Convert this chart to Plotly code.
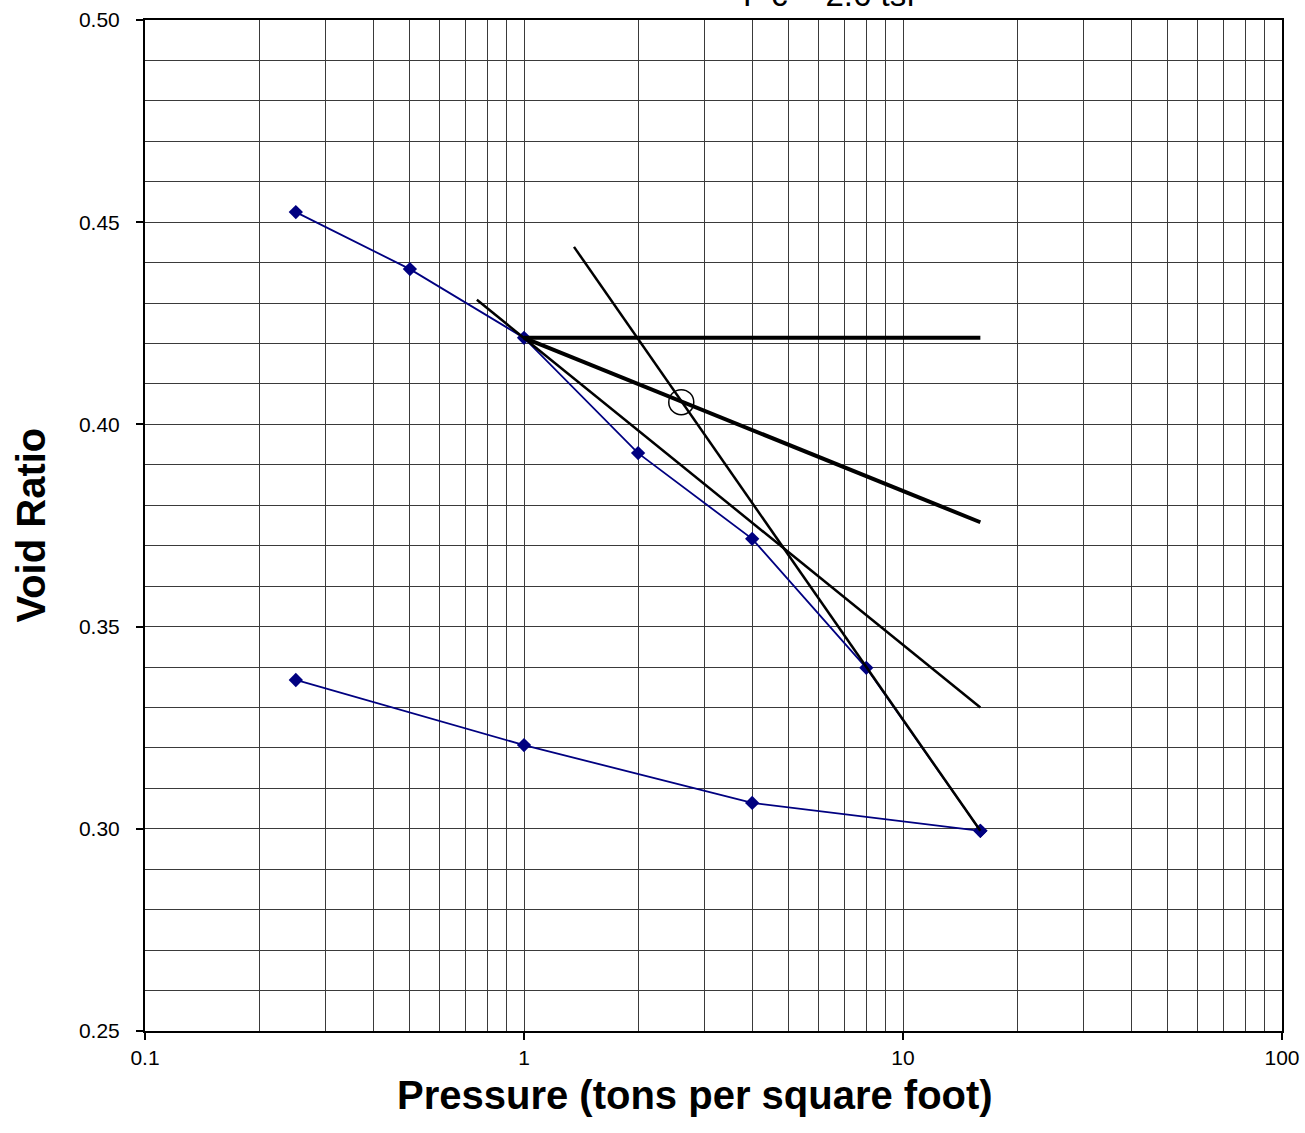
import plotly.graph_objects as go

# Consolidation test: loading and unloading curves
load_p = [0.25, 0.5, 1, 2, 4, 8, 16]
load_e = [0.4525, 0.4384, 0.4214, 0.3929, 0.3717, 0.3398, 0.2995]
unload_p = [16, 4, 1, 0.25]
unload_e = [0.2995, 0.3064, 0.3207, 0.3368]

# Casagrande construction for preconsolidation pressure
horiz_p = [1, 16]
horiz_e = [0.4214, 0.4214]
tangent_p = [1, 16]
tangent_e = [0.4214, 0.3758]
bisector_p = [0.751, 16]
bisector_e = [0.4308, 0.3300]
virgin_p = [1.355, 16]
virgin_e = [0.4439, 0.2995]
pc_p = [2.6]
pc_e = [0.4055]

navy = "#000080"
fig = go.Figure()

fig.add_trace(go.Scatter(x=load_p, y=load_e, mode="lines+markers",
                         line=dict(color=navy, width=1.8),
                         marker=dict(symbol="diamond", size=11, color=navy)))
fig.add_trace(go.Scatter(x=unload_p, y=unload_e, mode="lines+markers",
                         line=dict(color=navy, width=1.8),
                         marker=dict(symbol="diamond", size=11, color=navy)))
fig.add_trace(go.Scatter(x=horiz_p, y=horiz_e, mode="lines",
                         line=dict(color="black", width=4)))
fig.add_trace(go.Scatter(x=tangent_p, y=tangent_e, mode="lines",
                         line=dict(color="black", width=4)))
fig.add_trace(go.Scatter(x=bisector_p, y=bisector_e, mode="lines",
                         line=dict(color="black", width=2.5)))
fig.add_trace(go.Scatter(x=virgin_p, y=virgin_e, mode="lines",
                         line=dict(color="black", width=2.5)))
fig.add_trace(go.Scatter(x=pc_p, y=pc_e, mode="markers",
                         marker=dict(symbol="circle-open", size=25,
                                     color="black", line=dict(width=1.5))))

minor_x = [m * 10.0 ** d for d in (-1, 0, 1) for m in range(2, 10)]
grid_col = "#3a3a3a"

fig.update_layout(
    width=1305, height=1133,
    margin=dict(l=145, r=23, t=20, b=102),
    paper_bgcolor="white", plot_bgcolor="white",
    showlegend=False,
    font=dict(family="Liberation Sans, Arial, sans-serif", color="black"),
    xaxis=dict(
        type="log", range=[-1, 2], automargin=False,
        tickvals=[0.1, 1, 10, 100], ticktext=["0.1", "1", "10", "100"],
        ticks="outside", ticklen=7, tickwidth=2, tickcolor="black",
        tickfont=dict(size=21), ticklabelstandoff=0,
        showline=True, linecolor="black", linewidth=2, mirror=True,
        showgrid=True, gridcolor=grid_col, gridwidth=1,
        minor=dict(tickvals=minor_x, showgrid=True, gridcolor=grid_col,
                   gridwidth=1, ticks=""),
        zeroline=False,
    ),
    yaxis=dict(
        range=[0.25, 0.50], dtick=0.05, tick0=0.25, tickformat=".2f",
        automargin=False,
        ticks="outside", ticklen=7, tickwidth=2, tickcolor="black",
        tickfont=dict(size=21), ticklabelstandoff=12,
        showline=True, linecolor="black", linewidth=2, mirror=True,
        showgrid=True, gridcolor=grid_col, gridwidth=1,
        minor=dict(dtick=0.01, showgrid=True, gridcolor=grid_col,
                   gridwidth=1, ticks=""),
        zeroline=False,
    ),
    annotations=[
        dict(text="P'c = 2.6 tsf", xref="paper", yref="paper",
             x=0.6016, y=1.0048, xanchor="center", yanchor="bottom",
             showarrow=False, font=dict(size=33)),
        dict(text="<b>Pressure (tons per square foot)</b>",
             xref="paper", yref="paper", x=0.4837, y=-0.0633,
             xanchor="center", yanchor="middle", showarrow=False,
             font=dict(size=40)),
        dict(text="<b>Void Ratio</b>", xref="paper", yref="paper",
             x=-0.1011, y=0.5, xanchor="center", yanchor="middle",
             textangle=-90, showarrow=False, font=dict(size=40)),
    ],
)

fig.write_html("out.html")
